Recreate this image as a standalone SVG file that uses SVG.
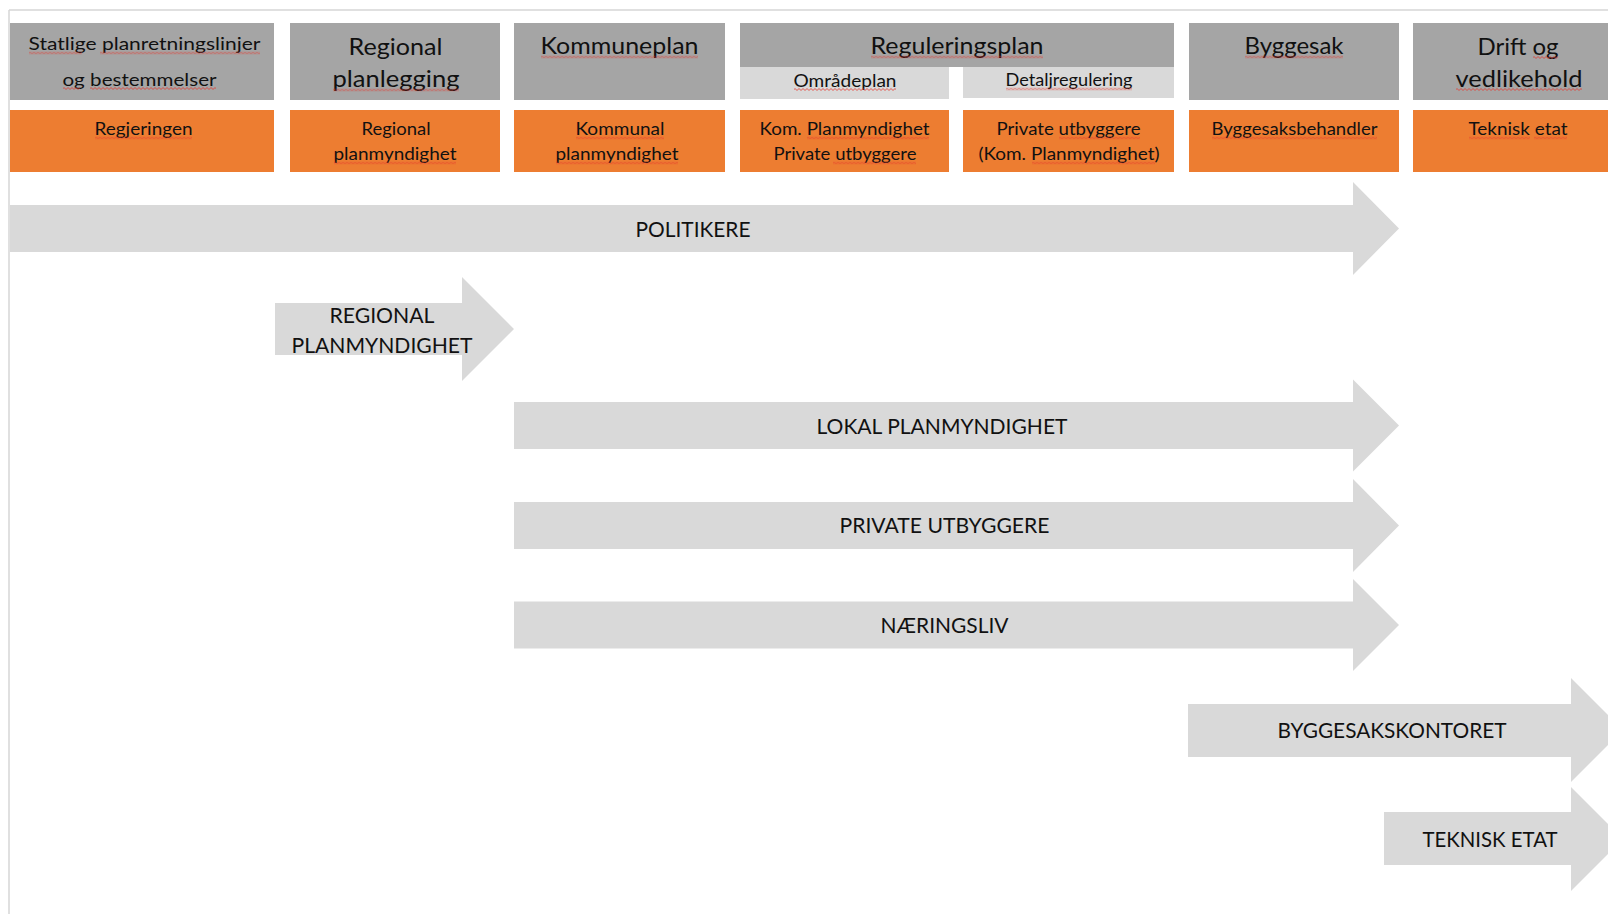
<svg xmlns="http://www.w3.org/2000/svg" width="1608" height="914" viewBox="0 0 1608 914">
<defs>
<pattern id="sq" patternUnits="userSpaceOnUse" x="0" y="0" width="4" height="3">
<path d="M-1,2.5 L1,0.5 L3,2.5 L5,0.5" fill="none" stroke="#e3342a" stroke-width="0.8"/>
</pattern>
</defs>
<style>
.hd{fill:#a5a5a5}
.sub{fill:#d9d9d9}
.or{fill:#ed7d31}
.ar{fill:#d9d9d9}
text{font-family:Lato,"Open Sans","Liberation Sans",sans-serif;fill:#111;text-anchor:middle}
.big{font-size:24px}
.sm{font-size:18px}
.al{font-size:22px}
.sq{fill:url(#sq)}
</style>
<rect width="1608" height="914" fill="#ffffff"/>
<g id="frame">
<line x1="9" y1="10" x2="1608" y2="10" stroke="#d6d6d6" stroke-width="1.5"/>
<line x1="9" y1="10" x2="9" y2="914" stroke="#d6d6d6" stroke-width="1.5"/>
</g>
<g id="col-statlige">
<rect class="hd" x="10" y="23" width="264" height="77"/>
<text class="sm" x="144.5" y="50" textLength="232" lengthAdjust="spacingAndGlyphs">Statlige planretningslinjer</text>
<text class="sm" x="139.5" y="85.5" textLength="154" lengthAdjust="spacingAndGlyphs">og bestemmelser</text>
<rect class="sq" transform="translate(29,51.5)" width="53" height="3"/>
<rect class="sq" transform="translate(100,51.5)" width="160" height="3"/>
<rect class="sq" transform="translate(63,87)" width="17" height="3"/>
<rect class="sq" transform="translate(90,87)" width="126" height="3"/>
</g>
<g id="col-regional">
<rect class="hd" x="290" y="23" width="210" height="77"/>
<text class="big" x="395.5" y="54.5" textLength="94" lengthAdjust="spacingAndGlyphs">Regional</text>
<text class="big" x="396" y="87" textLength="127" lengthAdjust="spacingAndGlyphs">planlegging</text>
<rect class="sq" transform="translate(333,88.5)" width="126" height="3"/>
</g>
<g id="col-kommuneplan">
<rect class="hd" x="514" y="23" width="211" height="77"/>
<text class="big" x="619.5" y="54" textLength="158" lengthAdjust="spacingAndGlyphs">Kommuneplan</text>
<rect class="sq" transform="translate(541,55.5)" width="157" height="3"/>
</g>
<g id="col-reguleringsplan">
<rect class="hd" x="740" y="23" width="434" height="44"/>
<text class="big" x="957" y="54" textLength="173" lengthAdjust="spacingAndGlyphs">Reguleringsplan</text>
<rect class="sq" transform="translate(871,55.5)" width="172" height="3"/>
</g>
<g id="omradeplan">
<rect class="sub" x="740" y="67" width="209" height="32"/>
<text class="sm" x="845" y="86.5" textLength="103" lengthAdjust="spacingAndGlyphs">Områdeplan</text>
<rect class="sq" transform="translate(794,88)" width="102" height="3"/>
</g>
<g id="detaljregulering">
<rect class="sub" x="963" y="67" width="211" height="31"/>
<text class="sm" x="1069" y="86" textLength="127" lengthAdjust="spacingAndGlyphs">Detaljregulering</text>
<rect class="sq" transform="translate(1006,87.5)" width="126" height="3"/>
</g>
<g id="col-byggesak">
<rect class="hd" x="1189" y="23" width="210" height="77"/>
<text class="big" x="1294" y="54" textLength="99" lengthAdjust="spacingAndGlyphs">Byggesak</text>
<rect class="sq" transform="translate(1245,55.5)" width="98" height="3"/>
</g>
<g id="col-drift">
<rect class="hd" x="1413" y="23" width="210" height="77"/>
<text class="big" x="1518" y="54.5" textLength="81" lengthAdjust="spacingAndGlyphs">Drift og</text>
<text class="big" x="1519" y="86.5" textLength="127" lengthAdjust="spacingAndGlyphs">vedlikehold</text>
<rect class="sq" transform="translate(1533,56)" width="25" height="3"/>
<rect class="sq" transform="translate(1456,88)" width="126" height="3"/>
</g>
<g id="actor-regjeringen">
<rect class="or" x="10" y="110" width="264" height="62"/>
<text class="sm" x="143.5" y="135" textLength="98" lengthAdjust="spacingAndGlyphs">Regjeringen</text>
<rect class="sq" transform="translate(95,136.5)" width="97" height="3"/>
</g>
<g id="actor-regional">
<rect class="or" x="290" y="110" width="210" height="62"/>
<text class="sm" x="396" y="135" textLength="69" lengthAdjust="spacingAndGlyphs">Regional</text>
<text class="sm" x="395" y="160" textLength="123" lengthAdjust="spacingAndGlyphs">planmyndighet</text>
<rect class="sq" transform="translate(334,161.5)" width="122" height="3"/>
</g>
<g id="actor-kommunal">
<rect class="or" x="514" y="110" width="211" height="62"/>
<text class="sm" x="620" y="135" textLength="89" lengthAdjust="spacingAndGlyphs">Kommunal</text>
<text class="sm" x="617" y="160" textLength="123" lengthAdjust="spacingAndGlyphs">planmyndighet</text>
<rect class="sq" transform="translate(576,136.5)" width="88" height="3"/>
<rect class="sq" transform="translate(556,161.5)" width="122" height="3"/>
</g>
<g id="actor-omradeplan">
<rect class="or" x="740" y="110" width="209" height="62"/>
<text class="sm" x="844.5" y="135" textLength="170" lengthAdjust="spacingAndGlyphs">Kom. Planmyndighet</text>
<text class="sm" x="845" y="160" textLength="143" lengthAdjust="spacingAndGlyphs">Private utbyggere</text>
<rect class="sq" transform="translate(807,136.5)" width="122" height="3"/>
<rect class="sq" transform="translate(833,161.5)" width="83" height="3"/>
</g>
<g id="actor-detalj">
<rect class="or" x="963" y="110" width="211" height="62"/>
<text class="sm" x="1068.5" y="135" textLength="144" lengthAdjust="spacingAndGlyphs">Private utbyggere</text>
<text class="sm" x="1069" y="160" textLength="181" lengthAdjust="spacingAndGlyphs">(Kom. Planmyndighet)</text>
<rect class="sq" transform="translate(1059,136.5)" width="81" height="3"/>
<rect class="sq" transform="translate(1032,161.5)" width="123" height="3"/>
</g>
<g id="actor-byggesak">
<rect class="or" x="1189" y="110" width="210" height="62"/>
<text class="sm" x="1294.5" y="135" textLength="166" lengthAdjust="spacingAndGlyphs">Byggesaksbehandler</text>
<rect class="sq" transform="translate(1212,136.5)" width="165" height="3"/>
</g>
<g id="actor-teknisk">
<rect class="or" x="1413" y="110" width="210" height="62"/>
<text class="sm" x="1518" y="135" textLength="99" lengthAdjust="spacingAndGlyphs">Teknisk etat</text>
<rect class="sq" transform="translate(1469,136.5)" width="61" height="3"/>
<rect class="sq" transform="translate(1534,136.5)" width="33" height="3"/>
</g>
<g id="arrow-politikere">
<path class="ar" d="M10,205 H1353 V182 L1399,228.5 L1353,275 V252 H10 Z"/>
<text class="al" x="693" y="236.5" textLength="115" lengthAdjust="spacingAndGlyphs">POLITIKERE</text>
</g>
<g id="arrow-regional">
<path class="ar" d="M275,303 H462 V277 L514,329 L462,381 V355 H275 Z"/>
<text class="al" x="382" y="323" textLength="105" lengthAdjust="spacingAndGlyphs">REGIONAL</text>
<text class="al" x="382" y="353" textLength="181" lengthAdjust="spacingAndGlyphs">PLANMYNDIGHET</text>
</g>
<g id="arrow-lokal">
<path class="ar" d="M514,402 H1353 V379.5 L1399,425.5 L1353,471.5 V449 H514 Z"/>
<text class="al" x="942" y="434" textLength="251" lengthAdjust="spacingAndGlyphs">LOKAL PLANMYNDIGHET</text>
</g>
<g id="arrow-private">
<path class="ar" d="M514,502 H1353 V479 L1399,525.5 L1353,572 V549 H514 Z"/>
<text class="al" x="944.5" y="533" textLength="210" lengthAdjust="spacingAndGlyphs">PRIVATE UTBYGGERE</text>
</g>
<g id="arrow-naeringsliv">
<path class="ar" d="M514,601.5 H1353 V579 L1399,625 L1353,671 V648.5 H514 Z"/>
<text class="al" x="944.5" y="633" textLength="128" lengthAdjust="spacingAndGlyphs">NÆRINGSLIV</text>
</g>
<g id="arrow-byggesakskontoret">
<path class="ar" d="M1188,704 H1571 V678 L1623,730 L1571,782 V757 H1188 Z"/>
<text class="al" x="1392" y="738" textLength="229" lengthAdjust="spacingAndGlyphs">BYGGESAKSKONTORET</text>
</g>
<g id="arrow-teknisk">
<path class="ar" d="M1384,812 H1571 V787 L1623,839 L1571,891 V865 H1384 Z"/>
<text class="al" x="1490" y="847" textLength="135" lengthAdjust="spacingAndGlyphs">TEKNISK ETAT</text>
</g>
<g id="connectors"/>
</svg>
